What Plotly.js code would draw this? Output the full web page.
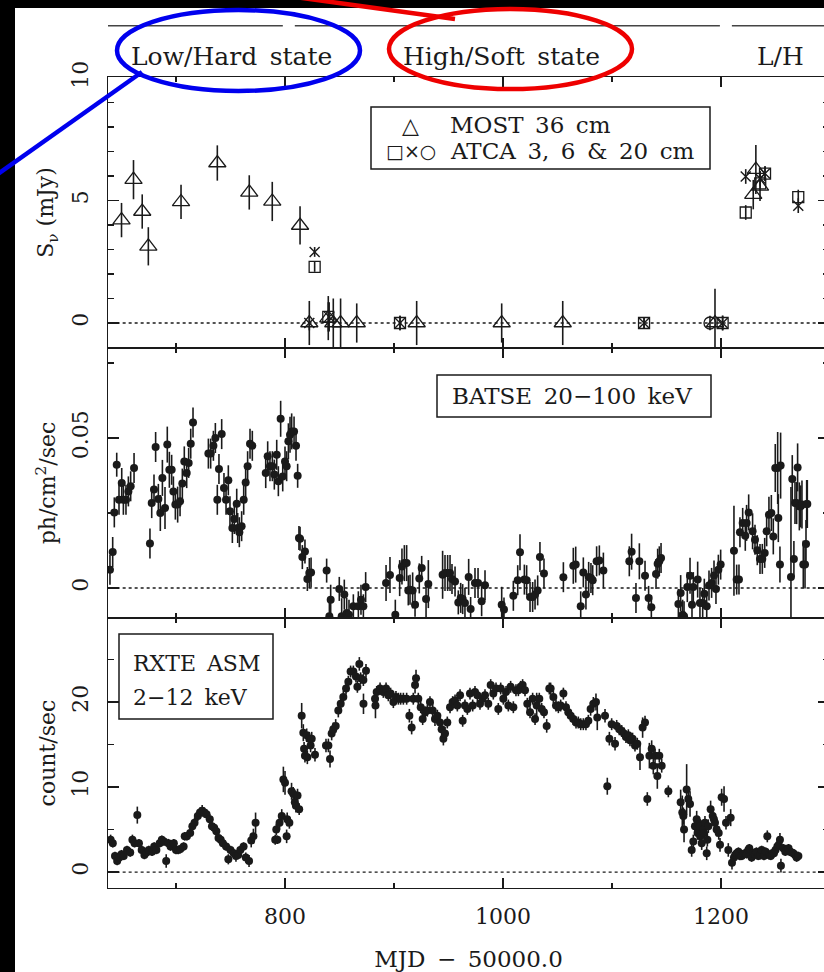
<!DOCTYPE html>
<html><head><meta charset="utf-8">
<script src="https://cdn.plot.ly/plotly-3.0.1.min.js"></script>
<style>html,body{margin:0;padding:0;background:#000;overflow:hidden;width:824px;height:972px}#chart{width:834px;height:972px}</style>
</head><body><div id="chart"></div><script>
// ---------------- DATA ----------------
const xRange = [637.6, 1299.1];
// Radio: MOST 36 cm (triangles) [MJD-50000, mJy, err]
const most = [[650,4.2,0.7],[661,5.85,0.8],[669,4.55,0.7],[674.6,3.13,0.78],[704.6,4.94,0.7],[737.9,6.53,0.72],[767.2,5.33,0.7],[788.3,4.96,0.8],[813.8,3.98,0.78],[822.3,0,0.9],[839.7,0.2,0.9],[844.3,0,1.0],[851,0,1.0],[865.8,0,0.8],[920.8,0,0.9],[998.8,0,0.8],[1054.8,0,0.9],[1194.5,0,1.4],[1229.6,5.24,0.6],[1232,6.26,1.0],[1235.8,5.58,0.6]];
// ATCA squares / crosses / circles
const atcaSq = [[827.2,2.29,0.2],[839.7,0.25,0.6],[905.5,0,0.3],[1129.4,0,0.2],[1201.5,0,0.3],[1222.7,4.51,0.3],[1236,5.7,0.3],[1240.4,6.1,0.3],[1270.9,5.14,0.3]];
const atcaX = [[827.2,2.9,0.2],[822.3,0,0.3],[840.5,0.25,0.6],[905.5,0,0.3],[1129.4,0,0.2],[1201.5,0,0.3],[1222.7,5.98,0.3],[1236,5.9,0.3],[1240.4,6.1,0.3],[1270.9,4.79,0.3]];
const atcaO = [[1189.9,0,0.3]];
// BATSE 20-100 keV [MJD-50000, ph/cm2/s, err]
const batse = [[639.4,0.0061,0.005],[641.9,0.012,0.005],[643.4,0.0252,0.005],[645.6,0.0411,0.004],[647.7,0.0294,0.005],[650.2,0.035,0.005],[651.7,0.0294,0.005],[654.1,0.0294,0.005],[656.3,0.0322,0.005],[658.4,0.0339,0.005],[661.5,0.040,0.005],
[676.1,0.0148,0.005],[677.7,0.0283,0.005],[679.8,0.0328,0.005],[681.3,0.047,0.005],[683.8,0.0297,0.005],[685.6,0.025,0.006],[687.5,0.0367,0.006],[689.9,0.0267,0.007],[692,0.0478,0.006],[693.9,0.0394,0.006],[696,0.0394,0.005],[697.6,0.0322,0.005],[699.4,0.0278,0.005],[701.5,0.0278,0.006],[703.7,0.0289,0.005],[705.8,0.0348,0.005],[707.6,0.0422,0.005],[709.8,0.0383,0.005],[711.6,0.0417,0.005],[713.5,0.0481,0.005],[715.6,0.0552,0.005],
[729.7,0.0448,0.005],[731.8,0.0448,0.005],[734.3,0.0474,0.005],[736.1,0.050,0.005],[737.9,0.0294,0.005],[739.4,0.0397,0.005],[741.9,0.0513,0.005],[744,0.0333,0.005],[745.9,0.0294,0.005],[748,0.0359,0.005],[749.5,0.0256,0.005],[751.7,0.020,0.005],[753.5,0.023,0.005],[755.7,0.0281,0.005],[756.6,0.020,0.005],[758.1,0.0186,0.005],[760.2,0.0206,0.005],[762.1,0.0294,0.005],[763.9,0.0352,0.005],[765.7,0.0406,0.005],[767.9,0.0481,0.005],[770,0.0474,0.005],
[782.3,0.0383,0.005],[784.1,0.0439,0.005],[786.2,0.0406,0.005],[788.4,0.0406,0.005],[790.2,0.0378,0.005],[792.4,0.0444,0.005],[793.9,0.0356,0.005],[796,0.0564,0.006],[797.9,0.0372,0.005],[800,0.0422,0.005],[801.5,0.0406,0.005],[803.1,0.0489,0.006],[804.6,0.0511,0.006],[806.1,0.0522,0.006],[808.3,0.0522,0.005],[810.1,0.0474,0.005],[811.6,0.0374,0.004],[812.8,0.0167,0.004],
[813.8,0.0164,0.004],[815.9,0.0103,0.004],[818.3,0.0122,0.004],[820.5,0.003,0.004],[822.3,0.005,0.005],[823.9,0.0052,0.005],[838.2,0.0058,0.004],[840.7,-0.0094,0.005],[841.9,-0.0039,0.005],[849.8,-0.0003,0.004],[852,-0.0094,0.006],[854.4,-0.0022,0.005],[856.6,-0.0083,0.005],[858.7,-0.0089,0.005],[862.7,-0.0061,0.004],[867.3,-0.0061,0.005],[869.7,-0.0039,0.005],[871.9,-0.0061,0.004],[874,0.0003,0.005],
[892.7,0.0017,0.006],[896.3,0.0043,0.006],[901.2,-0.0089,0.005],[905.2,0.0033,0.006],[907.3,0.0072,0.006],[909.5,0.0083,0.006],[911.6,0.0083,0.006],[913.1,-0.0008,0.005],[914.7,-0.0006,0.005],[917.1,-0.0008,0.006],[919.3,-0.0056,0.004],[923.2,0.0032,0.005],[925.4,0.0067,0.004],[929.4,-0.0037,0.006],[931.5,0.0013,0.008],
[944.6,0.0044,0.008],[946.8,0.005,0.006],[949.2,0.005,0.006],[951.4,0.005,0.006],[953.2,0.003,0.005],[956,0.0022,0.005],[959,-0.0048,0.004],[961.2,-0.0033,0.005],[963,-0.0037,0.005],[965.1,-0.005,0.005],[968.5,0.0037,0.006],[970.3,-0.007,0.004],[974.3,0.0017,0.005],[977.1,0.0017,0.005],[980.4,-0.0044,0.005],[983.5,0.0009,0.005],
[998.8,-0.0056,0.006],[1000.9,-0.0072,0.004],[1009.5,-0.0026,0.005],[1013.5,0.0026,0.005],[1015.6,0.0119,0.006],[1019.6,0.0028,0.005],[1021.7,0.0026,0.005],[1024.8,-0.003,0.005],[1027.2,-0.003,0.005],[1029.4,-0.0022,0.005],[1031.8,-0.0008,0.005],[1033.9,0.0103,0.005],[1037.6,0.0048,0.005],[1055.4,0.0036,0.005],
[1064.5,0.0074,0.006],[1066.7,0.0078,0.006],[1071.3,-0.0061,0.005],[1073.7,0.0052,0.005],[1076.1,-0.0022,0.005],[1078.6,0.0037,0.005],[1080.7,0.0033,0.005],[1082.3,0.0026,0.005],[1085.9,0.0089,0.005],[1088.4,0.0092,0.005],[1092.1,0.0058,0.006],
[1115.9,0.0089,0.005],[1118,0.0121,0.006],[1122,-0.0033,0.005],[1125.1,0.0089,0.006],[1130.3,0.0041,0.005],[1133.6,-0.0033,0.004],[1136.1,-0.0064,0.004],[1140.4,0.0047,0.005],[1141.9,0.0081,0.005],[1143.4,0.0089,0.005],[1145,0.01,0.005],
[1160.9,-0.0053,0.005],[1163,-0.0017,0.006],[1164.8,-0.0089,0.005],[1166.1,-0.0094,0.005],[1169.1,0.0003,0.005],[1171.6,0.0041,0.006],[1173.4,-0.0056,0.005],[1174.6,0.0003,0.005],[1178.6,0.0028,0.006],[1180.7,-0.005,0.005],[1183.2,-0.005,0.005],[1184.7,-0.0019,0.005],[1186.9,-0.0061,0.005],[1189,0.0008,0.005],[1191.4,0.0017,0.005],[1193.6,0.0042,0.005],[1195.4,-0.0003,0.005],[1197.6,0.0061,0.005],[1199.7,0.0078,0.005],
[1211.9,0.0124,0.015],[1214.4,0.0028,0.005],[1216.5,0.0028,0.005],[1217.4,0.0186,0.005],[1219.9,0.0217,0.005],[1222.3,0.0174,0.005],[1223.5,0.0217,0.006],[1225.4,0.0252,0.006],[1229,0.0189,0.006],[1231.2,0.0161,0.005],[1233.3,0.0126,0.005],[1235.8,0.0097,0.005],[1237.9,0.0097,0.005],[1240.1,0.0117,0.005],[1241.9,0.0189,0.005],[1244,0.0244,0.006],[1246.2,0.025,0.006],[1248,0.0172,0.006],[1249.8,0.040,0.008],[1252,0.040,0.012],[1252.6,0.0233,0.008],[1254.1,0.0078,0.006],[1254.7,0.0408,0.011],
[1264.2,0.0037,0.03],[1265.4,0.0363,0.008],[1266.9,0.0097,0.006],[1267.9,0.0283,0.007],[1269.4,0.0283,0.007],[1270.3,0.0402,0.008],[1271.9,0.0272,0.008],[1273.1,0.0272,0.007],[1274.3,0.0278,0.008],[1275.5,0.0078,0.008],[1277.1,0.0078,0.008],[1278,0.0147,0.008],[1278.6,0.028,0.008],[1279.2,0.028,0.008]];
// RXTE ASM 2-12 keV [MJD-50000, count/s, err]
const asm = [[640,3.8,0.6],[642,3.4,0.5],[644,1.9,0.5],[646,1.3,0.5],[648,1.7,0.5],[650,2.1,0.5],[652,1.9,0.5],[655,2.6,0.5],[658,2.3,0.5],[660,3.8,0.6],[662,3.4,0.5],[664.5,6.7,1.0],[666,3.4,0.5],[668.5,2.6,0.5],[671,2.0,0.5],[673,2.3,0.5],[675,2.6,0.5],[678,2.4,0.5],[680,3.0,0.5],[682,2.6,0.5],[685,3.4,0.5],[687,3.8,0.5],[689,3.6,0.5],[691,1.3,0.8],[693,3.4,0.5],[695,3.0,0.5],[698,3.4,0.5],[700,2.6,0.5],[702,2.6,0.5],[704,2.7,0.5],[707,3.0,0.5],[708,4.2,0.5],[710,4.2,0.5],[713,4.6,0.5],[715,5.4,0.5],[717,5.8,0.6],[720,6.6,0.6],[722,7.0,0.6],[724,7.2,0.7],[726,7.0,0.6],[728,6.8,0.6],[731,6.2,0.6],[733,5.4,0.5],[735,5.2,0.5],[737,4.8,0.5],[739,4.0,0.5],[741,3.8,0.5],[743,3.4,0.5],[746,3.0,0.5],[748,1.5,0.6],[750,2.6,0.5],[753,2.2,0.5],[755,1.9,0.7],[757,2.0,0.5],[759,2.6,0.5],[762,3.0,0.5],[764,1.7,0.6],[767,1.3,0.7],[769,3.7,0.8],[771,4.2,0.9],[773,5.8,1.2],
[791,3.8,0.6],[792,5.0,0.7],[793,3.8,0.5],[795,5.8,0.8],[797,6.6,0.8],[798.5,10.9,1.5],[800,10.5,1.4],[801.5,4.2,0.8],[802,6.2,0.8],[804,5.8,0.7],[806,9.5,1.0],[807.5,9.2,0.8],[809,8.2,0.7],[810,7.8,0.8],[811.5,9.0,0.8],[813,7.4,0.7],[815.3,18.4,1.5],[816.8,16.4,1.0],[817.5,14.5,0.8],[818.3,13.7,0.8],[819.9,16.1,0.8],[820.5,13.5,0.8],[822.3,15.7,0.8],[823.5,14.9,0.8],[824.5,15.7,0.8],[827.5,13.8,0.8],[837.6,14.9,0.8],[839.8,14.9,0.8],[841.3,13.3,1.0],[842.8,16.3,0.8],[844.3,16.8,0.8],[846.5,17.2,0.8],[848.9,19.0,0.8],[851.1,19.8,0.7],[853.5,20.6,0.7],[856,21.6,0.7],[858.1,22.4,0.7],[860.2,23.6,0.7],[862.7,23.6,0.7],[865.1,23.0,0.7],[866.4,21.8,0.7],[868.2,24.5,0.8],[869.4,22.8,0.7],[871.9,22.6,0.7],[872,19.8,1.2],[874.3,23.7,0.8],
[882.6,20.4,0.8],[883,19.6,1.5],[884.1,21.2,0.7],[887.2,21.6,0.7],[890.2,21.2,0.7],[892.7,21.6,0.7],[894.8,20.8,0.7],[896.9,21.0,0.7],[899.4,20.0,0.7],[901.8,20.6,0.7],[904,20.4,0.7],[906.1,20.4,0.7],[908.6,20.4,0.7],[911.6,20.4,0.7],[914.1,18.4,0.8],[916.2,17.0,0.8],[917.7,20.4,0.7],[919.3,22.0,1.0],[920.2,22.8,1.0],[922.3,20.4,0.7],[924.5,19.4,0.7],[926.3,18.0,0.7],[928.4,18.8,0.7],[930.6,19.0,0.7],[933,20.0,0.7],[935.5,19.0,1.0],[937.6,18.0,0.8],[939.8,18.4,0.7],[942.2,17.6,0.7],[943.7,16.8,0.8],[945.3,15.7,0.8],[946.8,16.3,0.8],[948.9,17.6,0.7],[951.4,19.4,0.7],[953.8,20.0,0.7],[956,20.2,0.7],[958.1,19.6,0.7],[960.6,20.8,0.7],[963,17.8,0.7],[965.1,19.6,0.7],[967.3,19.2,0.7],[969.7,21.0,0.7],[972.2,19.6,0.7],[974.3,21.2,0.7],[976.5,20.8,0.7],[978.9,19.8,0.7],[981.3,20.4,0.7],[983.5,20.8,0.7],[986.5,19.8,0.7],[988.7,22.0,0.7],[991.1,21.0,0.7],[993.6,21.6,0.7],[995.7,19.2,0.7],[997.9,21.6,0.7],[1000.3,20.4,0.7],[1002.8,21.2,0.7],[1004.9,19.6,0.7],[1007,21.8,0.7],[1009.5,19.4,0.7],[1011.9,21.4,0.7],[1014.1,21.4,0.7],[1016.2,21.8,0.7],[1018,22.0,0.7],[1020.2,21.4,0.7],[1022.3,19.8,0.7],[1024.8,18.8,0.7],[1027.2,20.4,0.7],[1029.4,18.0,0.7],[1030.9,19.6,1.5],[1033.3,20.4,0.7],[1035.5,19.2,0.7],[1037.6,18.8,0.7],[1040.1,17.2,0.8],[1042.5,21.6,0.7],
[1043.7,21.6,0.7],[1046.2,20.6,0.7],[1048.6,19.6,0.7],[1050.8,19.4,0.7],[1052.9,19.6,0.7],[1055.4,21.0,0.7],[1057.8,19.4,0.7],[1059.9,18.8,0.7],[1062.1,18.4,0.7],[1064.5,18.0,0.7],[1067,17.6,0.7],[1069.1,17.6,0.7],[1071.3,17.4,0.7],[1073.7,17.4,0.7],[1076.1,17.4,0.7],[1078.3,17.8,0.7],[1080.4,19.2,0.8],[1082.9,19.8,0.8],[1085.3,20.0,1.0],[1086.5,18.2,1.5],[1093.6,18.4,0.8],[1095.7,10.1,1.0],[1097.6,15.7,0.8],[1099.7,17.4,0.7],[1102.8,15.1,0.8],[1104.3,17.2,0.7],[1106.7,16.8,0.7],[1108.9,16.6,0.7],[1111,16.3,0.7],[1112.8,15.9,0.7],[1115,16.1,0.7],[1116.5,15.5,0.7],[1118.9,15.7,0.7],[1121.1,14.9,0.7],[1123.2,15.1,0.7],[1125.7,13.5,1.5],[1128.1,17.0,1.2],[1130.3,17.6,0.8],[1132.4,8.6,0.8],[1134.3,13.7,1.5],[1136.4,14.5,1.0],[1137.9,12.5,1.0],[1139.5,13.7,0.8],[1141.6,11.3,1.5],[1143.4,13.7,0.8],[1145.6,12.5,0.8],[1151.7,9.5,0.7],
[1163,8.2,1.5],[1164.5,7.0,2.0],[1165.5,6.6,1.0],[1166.1,5.0,1.5],[1168.5,9.7,3.0],[1170,8.6,1.0],[1171.6,8.0,1.5],[1173.1,2.6,0.8],[1174.6,3.6,0.8],[1176.1,5.4,1.0],[1177.7,6.2,1.0],[1178.5,4.6,0.8],[1179.2,5.8,0.8],[1180.7,5.4,0.8],[1181,4.2,0.8],[1182.3,3.4,0.8],[1183.8,5.0,0.8],[1184.5,4.6,0.8],[1185.3,5.8,0.8],[1186.9,2.2,0.8],[1187.5,3.8,0.8],[1188.4,5.4,0.8],[1190.5,7.4,1.0],[1192.4,6.6,0.8],[1193.5,6.2,0.8],[1194.5,5.8,0.8],[1196,5.0,0.8],[1197.9,4.6,0.8],[1199.1,3.2,0.8],[1200.6,8.8,1.0],[1202.8,8.6,1.5],[1204.6,5.8,0.8],[1206.7,2.6,0.8],[1208.9,6.4,1.0],[1210.1,1.1,0.8],
[1211.9,1.7,0.5],[1213,2.0,0.5],[1214.4,2.2,0.5],[1216,2.4,0.5],[1217.4,1.9,0.5],[1219,1.9,0.5],[1220.5,2.1,0.5],[1222,2.2,0.5],[1223.5,2.1,0.5],[1225,2.6,0.5],[1226,2.8,0.5],[1228.1,1.7,0.5],[1229.5,2.2,0.5],[1231.2,2.1,0.5],[1232.5,2.4,0.5],[1234.3,1.9,0.5],[1236,2.0,0.5],[1237.3,2.6,0.5],[1239.4,1.9,0.5],[1241,2.4,0.5],[1242.5,4.2,0.7],[1244,2.0,0.5],[1245.6,1.9,0.5],[1247,2.2,0.5],[1248.6,2.2,0.5],[1250,2.6,0.5],[1251.7,3.0,0.5],[1253,3.2,0.6],[1254.1,3.8,0.8],[1255,0.75,0.8],[1257.2,2.8,0.5],[1259,2.4,0.5],[1260.2,2.6,0.5],[1262,2.8,0.5],[1263.3,2.4,0.5],[1265,2.3,0.5],[1266.4,2.2,0.5],[1268,2.0,0.5],[1269.4,1.7,0.5],[1271,1.9,0.5]];
// Spectral states along the top
const stateStart = [637.6, 809, 1210];
const stateEnd = [798, 1199, 1300];
const stateLabel = ['Low/Hard\u2002state', 'High/Soft\u2002state', 'L/H'];
const stateLabelX = [751, 999, 1255];

// ---------------- FIGURE ----------------
const F = '"DejaVu Serif", "Liberation Serif", serif';
const INK = '#1a1a1a';
const col = (a, i) => a.map(r => r[i]);
const xPaper = d => (d - xRange[0]) / (xRange[1] - xRange[0]);
// decoration positions (pixel -> paper) for boxes/ellipses only
const PL = 108, PW = 721, PB = 888, PH = 811;
const px = p => (p - PL) / PW, py = p => (PB - p) / PH;
const D1 = 270 / 811, D2 = 540 / 811;

function errTrace(rows, xa, ya, marker) {
  return {type:'scatter', mode:'markers', x:col(rows,0), y:col(rows,1), xaxis:xa, yaxis:ya,
    marker:marker, error_y:{type:'data', array:col(rows,2), visible:true, color:INK, thickness:1.6, width:0},
    hoverinfo:'x+y', cliponaxis:true};
}
const dot = {symbol:'circle', size:8, color:INK, line:{width:0}};
const data = [
  errTrace(most, 'x3', 'y', {symbol:'triangle-up-open', size:15, color:INK, line:{width:1.3, color:INK}}),
  errTrace(atcaSq, 'x3', 'y', {symbol:'square-open', size:11, color:INK, line:{width:1.3, color:INK}}),
  errTrace(atcaX, 'x3', 'y', {symbol:'x-thin-open', size:10, color:INK, line:{width:1.4, color:INK}}),
  errTrace(atcaO, 'x3', 'y', {symbol:'circle-open', size:12, color:INK, line:{width:1.3, color:INK}}),
  errTrace(batse, 'x2', 'y2', dot),
  errTrace(asm, 'x', 'y3', dot)
];

const ax = {ticks:'inside', showline:true, mirror:'ticks', linecolor:INK, linewidth:1.2, tickcolor:INK, tickwidth:1.3,
  showgrid:false, zeroline:false, tickfont:{family:F, size:22, color:INK}};
const xMinor = {dtick:100, tick0:0, ticklen:5, ticks:'inside', tickcolor:INK, tickwidth:1.3, showgrid:false};
const xBase = Object.assign({}, ax, {range:xRange, tick0:0, dtick:200, ticklen:10, minor:xMinor, domain:[0,1]});
const yTitleFont = {family:F, size:22, color:INK};

const shapes = [
  {type:'rect', xref:'paper', yref:'paper', x0:px(15), x1:px(840), y0:py(980), y1:py(8), fillcolor:'#fff', line:{width:0}, layer:'below'}
];
for (let i = 0; i < stateStart.length; i++) {
  shapes.push({type:'line', xref:'paper', yref:'paper', x0:Math.max(0,xPaper(stateStart[i])), x1:xPaper(stateEnd[i]), y0:py(25.7), y1:py(25.7), line:{color:'#444', width:1.6}});
}
['y','y2','y3'].forEach(yr => shapes.push({type:'line', xref:'paper', yref:yr, x0:0.012, x1:1, y0:0, y1:0, line:{color:INK, width:1.3, dash:'dot'}}));
// legend / label boxes
shapes.push({type:'rect', xref:'paper', yref:'paper', x0:px(371), x1:px(710), y0:py(169), y1:py(107), line:{color:INK, width:1.5}});
shapes.push({type:'rect', xref:'paper', yref:'paper', x0:px(437), x1:px(711), y0:py(417), y1:py(375), line:{color:INK, width:1.5}});
shapes.push({type:'rect', xref:'paper', yref:'paper', x0:px(119), x1:px(273), y0:py(719), y1:py(634), line:{color:INK, width:1.5}});
// hand-drawn highlights
shapes.push({type:'circle', xref:'paper', yref:'paper', x0:px(117), x1:px(360), y0:py(91), y1:py(10), line:{color:'#0000ee', width:4.5}});
shapes.push({type:'line', xref:'paper', yref:'paper', x0:px(142), x1:px(-5), y0:py(72), y1:py(176), line:{color:'#0000ee', width:4.5}});
shapes.push({type:'circle', xref:'paper', yref:'paper', x0:px(389), x1:px(632), y0:py(89), y1:py(9), line:{color:'#ee0000', width:4.5}});
shapes.push({type:'line', xref:'paper', yref:'paper', x0:px(295), x1:px(455), y0:py(-3), y1:py(19), line:{color:'#ee0000', width:4.5}});

const ann = [];
for (let i = 0; i < stateLabel.length; i++) {
  ann.push({xref:'paper', yref:'paper', x:xPaper(stateLabelX[i]), y:py(56.5), text:stateLabel[i], showarrow:false, xanchor:'center', yanchor:'middle', font:{family:F, size:25, color:INK}});
}
const legF = {family:F, size:23, color:INK};
ann.push({xref:'paper', yref:'paper', x:px(410), y:py(125), text:'\u25B3', showarrow:false, xanchor:'center', yanchor:'middle', font:{family:'DejaVu Sans', size:22, color:INK}});
ann.push({xref:'paper', yref:'paper', x:px(410.5), y:py(151), text:'\u25A1\u00D7\u25CB', showarrow:false, xanchor:'center', yanchor:'middle', font:{family:'DejaVu Sans', size:19, color:INK}});
ann.push({xref:'paper', yref:'paper', x:px(448), y:py(125), text:'MOST\u200236\u2002cm', showarrow:false, xanchor:'left', yanchor:'middle', font:legF});
ann.push({xref:'paper', yref:'paper', x:px(448), y:py(151), text:'ATCA\u20023,\u20026\u2002&amp;\u200220\u2002cm', showarrow:false, xanchor:'left', yanchor:'middle', font:legF});
ann.push({xref:'paper', yref:'paper', x:px(572), y:py(396), text:'BATSE\u200220\u2212100\u2002keV', showarrow:false, xanchor:'center', yanchor:'middle', font:legF});
ann.push({xref:'paper', yref:'paper', x:px(131), y:py(663), text:'RXTE\u2002ASM', showarrow:false, xanchor:'left', yanchor:'middle', font:{family:F, size:22, color:INK}});
ann.push({xref:'paper', yref:'paper', x:px(131), y:py(697), text:'2\u221212\u2002keV', showarrow:false, xanchor:'left', yanchor:'middle', font:{family:F, size:22, color:INK}});

const layout = {
  width:834, height:972, margin:{l:108, r:5, t:77, b:84, pad:0},
  paper_bgcolor:'#000', plot_bgcolor:'rgba(0,0,0,0)', showlegend:false,
  font:{family:F, size:22, color:INK},
  xaxis: Object.assign({}, xBase, {anchor:'y3', showticklabels:true, ticklabelstandoff:8,
    title:{text:'MJD\u2002\u2212\u200250000.0', standoff:24, font:{family:F, size:23, color:INK}}}),
  xaxis2: Object.assign({}, xBase, {anchor:'y2', matches:'x', showticklabels:false}),
  xaxis3: Object.assign({}, xBase, {anchor:'y', matches:'x', showticklabels:false}),
  yaxis: Object.assign({}, ax, {anchor:'x3', domain:[D2,1], range:[-1.02,10.04], tick0:0, dtick:5, ticklen:11,
    minor:{dtick:1, tick0:0, ticklen:6, ticks:'inside', tickcolor:INK, tickwidth:1.3}, tickangle:-90, ticklabelstandoff:10,
    title:{text:'S<sub>\u03BD</sub> (mJy)', font:yTitleFont, standoff:8}}),
  yaxis2: Object.assign({}, ax, {anchor:'x2', domain:[D1,D2], range:[-0.01,0.08], tick0:0, dtick:0.05, ticklen:11,
    minor:{dtick:0.025, tick0:0, ticklen:6, ticks:'inside', tickcolor:INK, tickwidth:1.3}, tickangle:-90, ticklabelstandoff:10,
    title:{text:'ph/cm<sup>2</sup>/sec', font:yTitleFont, standoff:6}}),
  yaxis3: Object.assign({}, ax, {anchor:'x', domain:[0,D1], range:[-1.88,29.9], tick0:0, dtick:10, ticklen:11,
    minor:{dtick:5, tick0:0, ticklen:6, ticks:'inside', tickcolor:INK, tickwidth:1.3}, tickangle:-90, ticklabelstandoff:10,
    title:{text:'count/sec', font:yTitleFont, standoff:6}}),
  shapes:shapes, annotations:ann
};
Plotly.newPlot('chart', data, layout, {staticPlot:true, displayModeBar:false});
</script></body></html>
